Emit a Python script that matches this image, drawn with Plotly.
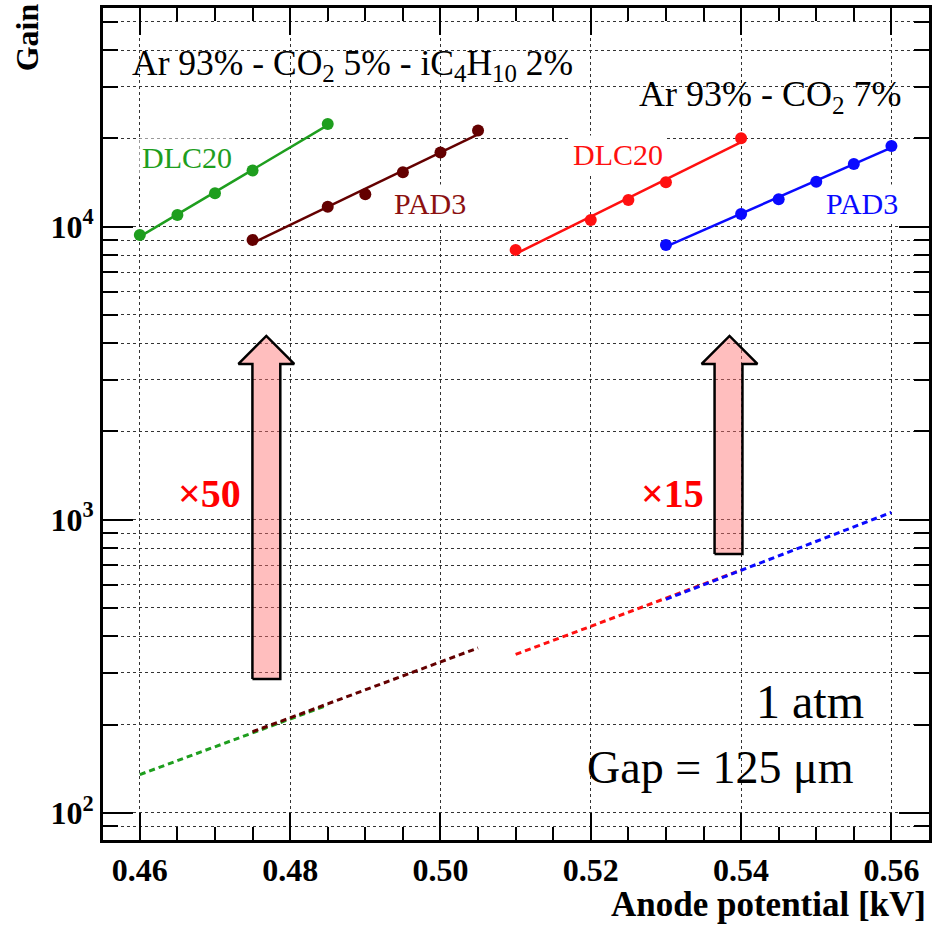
import numpy as np
import plotly.graph_objects as go

# ---------------- data ----------------
# Ar 93% - CO2 5% - iC4H10 2%
dlc20_iso_v = [0.460, 0.465, 0.470, 0.475, 0.485]
dlc20_iso_g = [9370, 10960, 13000, 15530, 22400]
pad3_iso_v = [0.475, 0.485, 0.490, 0.495, 0.500, 0.505]
pad3_iso_g = [9010, 11700, 12900, 15330, 17890, 21270]
# Ar 93% - CO2 7%
dlc20_co2_v = [0.510, 0.520, 0.525, 0.530, 0.540]
dlc20_co2_g = [8330, 10540, 12330, 14170, 20030]
pad3_co2_v = [0.530, 0.540, 0.545, 0.550, 0.555, 0.560]
pad3_co2_g = [8660, 11050, 12400, 14240, 16370, 18850]

# low-gain reference curves (dashed), endpoints
dash_green_v = [0.460, 0.485]
dash_green_g = [135, 233]
dash_brown_v = [0.475, 0.505]
dash_brown_g = [189, 365]
dash_red_v = [0.510, 0.540]
dash_red_g = [347, 673]
dash_blue_v = [0.530, 0.560]
dash_blue_g = [535, 1059]

# arrows (shaft left, shaft right, head left, head right, tip x, tip y, head base y, bottom y)
arrow_x50 = [0.47498, 0.47869, 0.47312, 0.48054, 0.47683, 4236, 3400, 286]
arrow_x15 = [0.53647, 0.54018, 0.53475, 0.54217, 0.53846, 4236, 3400, 764]

x_tick_vals = [0.46, 0.48, 0.50, 0.52, 0.54, 0.56]
x_tick_text = ["0.46", "0.48", "0.50", "0.52", "0.54", "0.56"]
x_minor_vals = [0.465, 0.47, 0.475, 0.485, 0.49, 0.495, 0.505, 0.51, 0.515,
                0.525, 0.53, 0.535, 0.545, 0.55, 0.555]
y_tick_vals = [100, 1000, 10000]
y_tick_text = ["10<sup>2</sup>", "10<sup>3</sup>", "10<sup>4</sup>"]
y_minor_vals = [90, 200, 300, 400, 500, 600, 700, 800, 900,
                2000, 3000, 4000, 5000, 6000, 7000, 8000, 9000,
                20000, 30000, 40000, 50000]

SERIF = "Liberation Serif"
GREEN = "#1e9e1e"
BROWN = "#640000"
RED = "#ff1010"
BLUE = "#0a0aff"

fig = go.Figure()


def fit_line(v, g):
    v = np.asarray(v, dtype=float)
    p = np.polyfit(v, np.log10(g), 1)
    xs = np.array([v.min(), v.max()])
    return xs, 10 ** np.polyval(p, xs)


def add_arrow(a):
    sl, sr, hl, hr, tx, ty, by, bot = a
    xs = [sl, sl, hl, tx, hr, sr, sr, sl]
    ys = [bot, by, by, ty, by, by, bot, bot]
    fig.add_trace(go.Scatter(x=xs, y=ys, mode="lines", fill="toself",
                             fillcolor="rgba(255,110,110,0.45)",
                             line=dict(color="black", width=2.5),
                             hoverinfo="skip", showlegend=False))


add_arrow(arrow_x50)
add_arrow(arrow_x15)

for v, g, c in [(dash_green_v, dash_green_g, GREEN), (dash_brown_v, dash_brown_g, BROWN),
                (dash_red_v, dash_red_g, RED), (dash_blue_v, dash_blue_g, BLUE)]:
    fig.add_trace(go.Scatter(x=v, y=g, mode="lines",
                             line=dict(color=c, width=3, dash="6px,4px"),
                             showlegend=False))

for v, g, c in [(dlc20_iso_v, dlc20_iso_g, GREEN), (pad3_iso_v, pad3_iso_g, BROWN),
                (dlc20_co2_v, dlc20_co2_g, RED), (pad3_co2_v, pad3_co2_g, BLUE)]:
    fx, fy = fit_line(v, g)
    fig.add_trace(go.Scatter(x=fx, y=fy, mode="lines", line=dict(color=c, width=2.5),
                             showlegend=False))
    fig.add_trace(go.Scatter(x=v, y=g, mode="markers",
                             marker=dict(color=c, size=12), showlegend=False))


def pbox(x0, x1, y0, y1):
    fig.add_shape(type="rect", xref="paper", yref="paper", x0=x0, x1=x1, y0=y0, y1=y1,
                  fillcolor="white", line=dict(width=0), layer="between")


pbox(0.0205, 0.591, 0.893, 0.9796)
pbox(0.627, 0.982, 0.857, 0.935)
pbox(0.771, 0.961, 0.114, 0.202)
pbox(0.581, 0.999, 0.0385, 0.1178)


def ann(text, x, y, size, color="black", bold=False, xanchor="center", bg=None, angle=0,
        yanchor="middle", pad=2):
    fig.add_annotation(text=text, x=x, y=y, xref="paper", yref="paper", showarrow=False,
                       xanchor=xanchor, yanchor=yanchor, textangle=angle,
                       bgcolor=bg, borderpad=pad,
                       font=dict(family=SERIF, size=size, color=color,
                                 weight="bold" if bold else "normal"))


ann("Ar 93% - CO<sub>2</sub> 5% - iC<sub>4</sub>H<sub>10</sub> 2%", 0.031, 0.931, 35.5,
    xanchor="left")
ann("Ar 93% - CO<sub>2</sub> 7%", 0.971, 0.894, 36, xanchor="right")
ann("DLC20", 0.1019, 0.8203, 30, color=GREEN, bg="white")
ann("PAD3", 0.3957, 0.765, 30, color="#8b1010", bg="white")
ann("DLC20", 0.6236, 0.8239, 30, color=RED, bg="white")
ann("PAD3", 0.919, 0.7656, 30, color=BLUE, bg="white")
ann("×50", 0.129, 0.4165, 40, color="#ff0000", bold=True)
ann("×15", 0.690, 0.4165, 40, color="#ff0000", bold=True)
ann("1 atm", 0.856, 0.167, 48)
ann("Gap = 125 μm", 0.747, 0.0871, 46)
ann("Gain", -0.0917, 1.0096, 32, bold=True, angle=-90, yanchor="top")
ann("Anode potential [kV]", 0.998, -0.077, 35, bold=True, xanchor="right", pad=0)

axis_common = dict(showline=True, linecolor="black", linewidth=3, mirror="ticks",
                   ticks="inside", tickcolor="black", tickwidth=1.5,
                   showgrid=True, gridcolor="#333333", griddash="dot", gridwidth=1,
                   zeroline=False,
                   tickfont=dict(family=SERIF, size=32, color="black", weight="bold"))

fig.update_xaxes(range=[0.4551, 0.565], tickmode="array", tickvals=x_tick_vals,
                 ticktext=x_tick_text, ticklen=27,
                 minor=dict(tickvals=x_minor_vals, ticklen=13, ticks="inside",
                            tickcolor="black", tickwidth=1.5, showgrid=False),
                 **axis_common)
fig.update_yaxes(type="log", range=[1.907, 4.746], tickmode="array", tickvals=y_tick_vals,
                 ticktext=y_tick_text, ticklen=30,
                 minor=dict(tickvals=y_minor_vals, ticklen=15, ticks="inside",
                            tickcolor="black", tickwidth=1.5, showgrid=True,
                            gridcolor="#333333", griddash="dot", gridwidth=1),
                 **axis_common)

fig.update_layout(width=935, height=927, margin=dict(l=103, r=3, t=8, b=87),
                  paper_bgcolor="white", plot_bgcolor="white", showlegend=False,
                  font=dict(family=SERIF))

fig.write_html("out.html")
